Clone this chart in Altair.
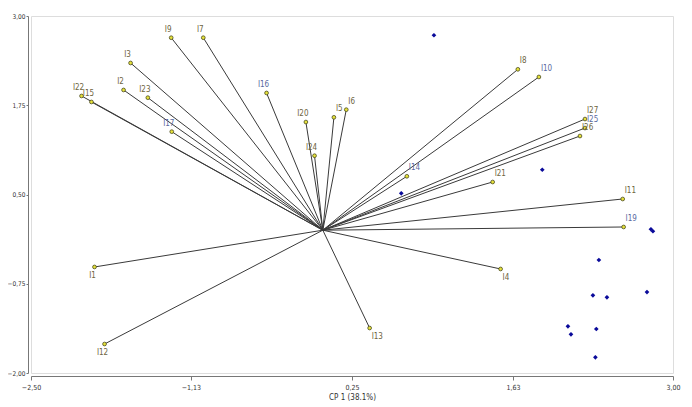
import altair as alt
import pandas as pd

# Variable vectors (loadings) - endpoint coordinates
var_names = ["I22", "I15", "I2", "I3", "I23", "I17", "I9", "I7", "I16", "I20", "I24",
             "I5", "I6", "I14", "I8", "I10", "I27", "I25", "I26", "I21", "I11", "I19",
             "I4", "I13", "I1", "I12"]
var_x = [-2.067, -1.982, -1.707, -1.647, -1.499, -1.294, -1.299, -1.024, -0.482, -0.145, -0.071,
         0.095, 0.201, 0.720, 1.671, 1.851, 2.246, 2.246, 2.203, 1.455, 2.569, 2.577,
         1.523, 0.401, -1.956, -1.870]
var_y = [1.880, 1.796, 1.964, 2.342, 1.856, 1.380, 2.696, 2.696, 1.922, 1.515, 1.043,
         1.581, 1.688, 0.755, 2.253, 2.146, 1.557, 1.431, 1.319, 0.675, 0.437, 0.045,
         -0.543, -1.370, -0.515, -1.594]
blue_labels = ["I16", "I10", "I17", "I19", "I25", "I14"]

# Observation scores
obs_x = [0.952, 0.672, 1.880, 2.811, 2.828, 2.365, 2.777, 2.314, 2.434, 2.100, 2.126, 2.343, 2.335]
obs_y = [2.730, 0.517, 0.847, 0.013, -0.015, -0.417, -0.866, -0.912, -0.940, -1.346, -1.458, -1.384, -1.780]

x_ticks = [-2.50, -1.13, 0.25, 1.63, 3.00]
y_ticks = [-2.00, -0.75, 0.50, 1.75, 3.00]

vars_df = pd.DataFrame({"name": var_names, "x": var_x, "y": var_y})
vars_df["x0"] = 0.0
vars_df["y0"] = 0.0
vars_df["tint"] = ["blue" if n in blue_labels else "olive" for n in var_names]
obs_df = pd.DataFrame({"x": obs_x, "y": obs_y})

FONT = "DejaVu Sans Condensed, Liberation Sans Narrow, Liberation Sans, sans-serif"
label_expr = "replace(format(datum.value, '.2f'), '.', ',')"

xscale = alt.Scale(domain=[-2.5, 3.0], nice=False, zero=False)
yscale = alt.Scale(domain=[-2.0, 3.0], nice=False, zero=False)

xaxis = alt.Axis(values=x_ticks, labelExpr=label_expr, title="CP 1 (38.1%)", grid=False,
                 offset=3, tickSize=4, labelFontSize=7, labelFont=FONT, labelPadding=3,
                 labelFlush=False, labelOverlap=False,
                 labelColor="#333333", titleFontSize=8, titleFontWeight="normal",
                 titleColor="#333333", titleFont=FONT, domainColor="#777777",
                 tickColor="#777777", titlePadding=3)
yaxis = alt.Axis(values=y_ticks, labelExpr=label_expr, title=None, grid=False,
                 offset=3, tickSize=2, labelFontSize=6.5, labelFont=FONT,
                 labelFlush=False, labelOverlap=False,
                 labelColor="#333333", domainColor="#777777", tickColor="#777777", labelPadding=1)

base = alt.Chart(vars_df)

rules = base.mark_rule(color="#3a3a3a", strokeWidth=1).encode(
    x=alt.X("x0:Q", scale=xscale, axis=xaxis),
    y=alt.Y("y0:Q", scale=yscale, axis=yaxis),
    x2="x:Q",
    y2="y:Q",
)

ends = base.mark_point(shape="circle", filled=True, size=14, fill="#e6e23a",
                       stroke="#4a4a20", strokeWidth=0.8, opacity=1).encode(
    x=alt.X("x:Q", scale=xscale),
    y=alt.Y("y:Q", scale=yscale),
)

tcolor = alt.Color("tint:N", scale=alt.Scale(domain=["blue", "olive"],
                                             range=["#5a6aa0", "#6e6440"]), legend=None)

def labels(cond, align, dx, dy):
    return base.transform_filter(cond).mark_text(
        fontSize=8, font=FONT, align=align, baseline="middle", dx=dx, dy=dy
    ).encode(x=alt.X("x:Q", scale=xscale), y=alt.Y("y:Q", scale=yscale),
             text="name:N", color=tcolor)

lab_ul = labels("datum.y > 0 && datum.x < 0", "center", -3, -8)
lab_ur = labels("datum.y > 0 && datum.x >= 0", "left", 2, -8)
lab_ll = labels("datum.y <= 0 && datum.x < 0", "center", -2, 9)
lab_lr = labels("datum.y <= 0 && datum.x >= 0", "left", 2, 9)

obs = alt.Chart(obs_df).mark_point(shape="diamond", filled=True, size=22, color="#0a0a9a",
                                   opacity=1).encode(
    x=alt.X("x:Q", scale=xscale),
    y=alt.Y("y:Q", scale=yscale),
)

chart = alt.layer(rules, ends, lab_ul, lab_ur, lab_ll, lab_lr, obs).properties(
    width=642, height=357,
    autosize=alt.AutoSizeParams(type="none"),
    padding={"left": 23, "top": 8, "right": 10, "bottom": 30},
).configure_view(stroke=None).configure(background="white")

chart.save("out.html", embed_options={"renderer": "svg", "actions": False})
